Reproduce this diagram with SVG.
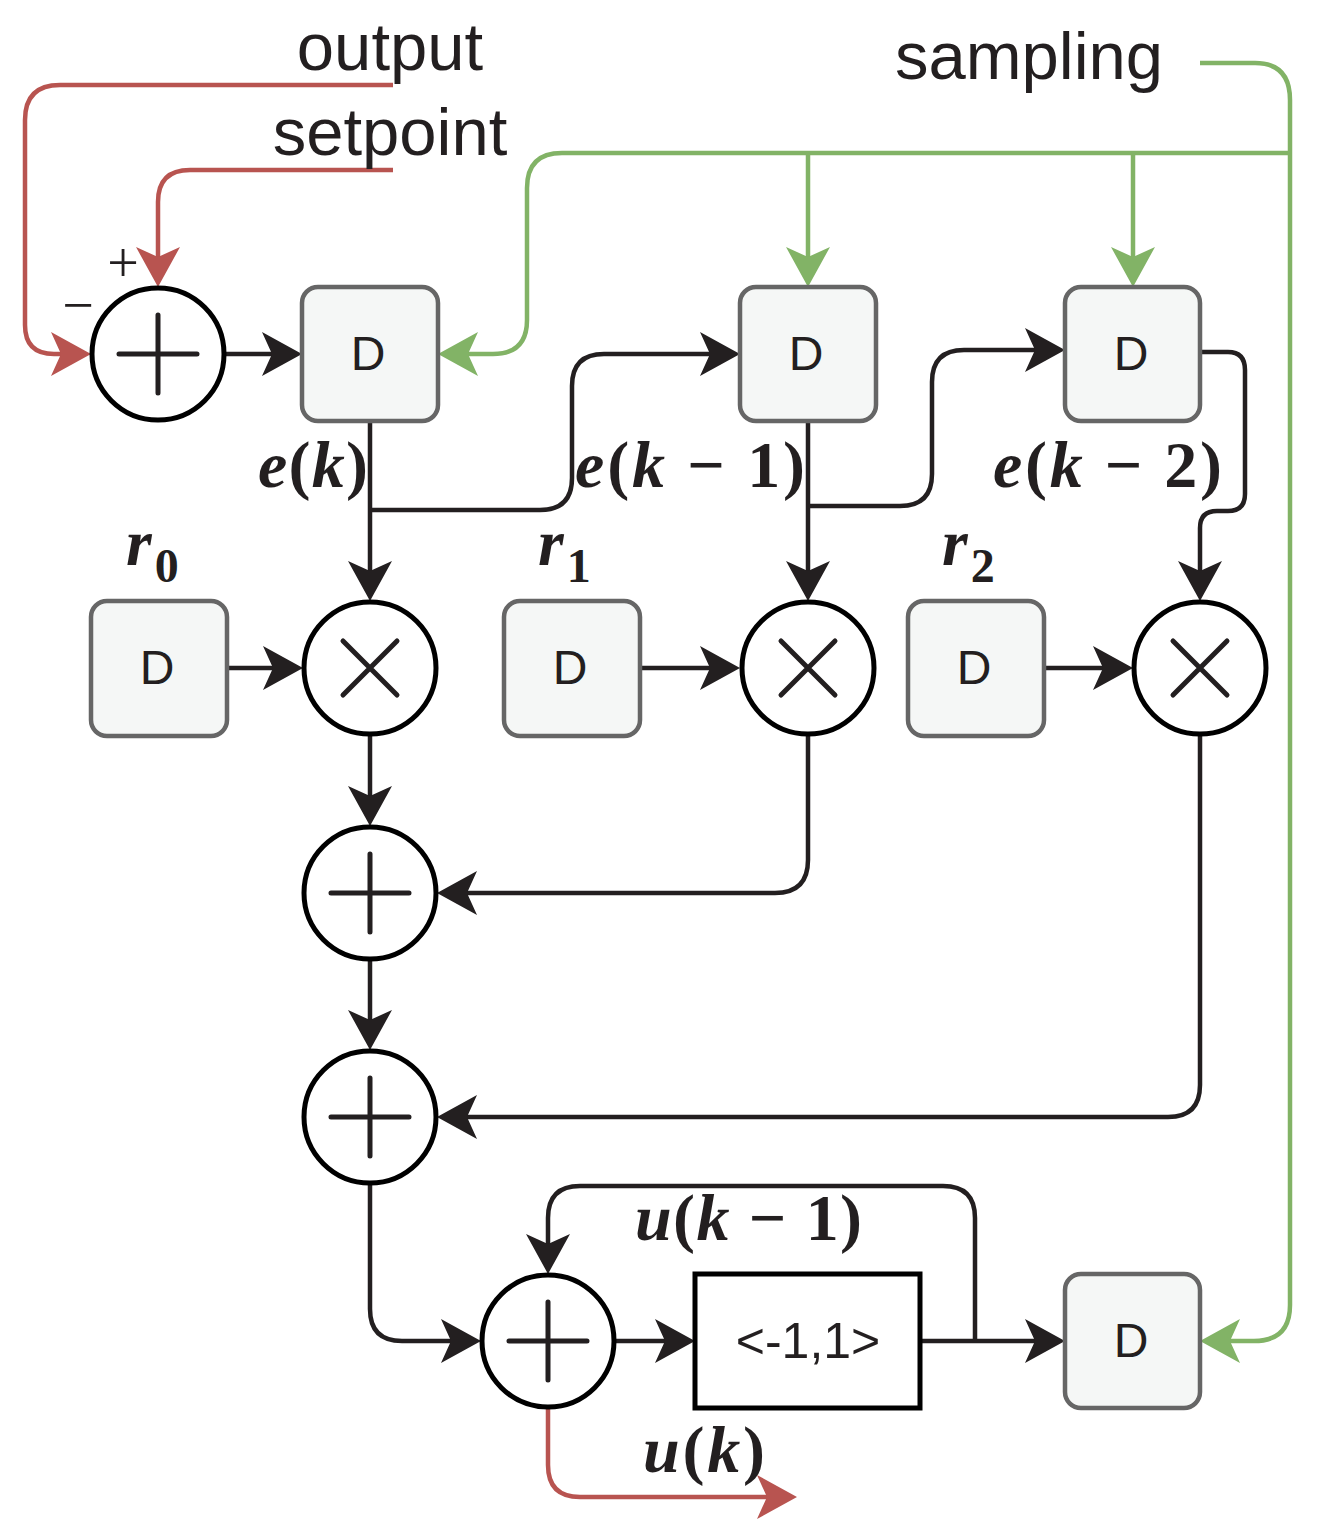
<svg xmlns="http://www.w3.org/2000/svg" width="1320" height="1529" viewBox="0 0 1320 1529">
<style>
.w{fill:none;stroke:#231f20;stroke-width:4.5;}
.r{fill:none;stroke:#b85450;stroke-width:4.5;}
.g{fill:none;stroke:#82b366;stroke-width:4.5;}
.d rect{fill:#f5f7f6;stroke:#666666;stroke-width:4.5;}
.d text{font-family:"Liberation Sans",Arial,sans-serif;font-size:48px;fill:#231f20;text-anchor:middle;}
.op circle{fill:#ffffff;stroke:#000000;stroke-width:5;}
.op path{fill:none;stroke:#231f20;stroke-width:5;stroke-linecap:round;}
.lbl{font-family:"Liberation Sans",Arial,sans-serif;font-size:67px;fill:#231f20;}
.m{font-family:"Liberation Serif","Times New Roman",serif;font-size:66px;font-weight:bold;fill:#231f20;}
.i{font-style:italic;}
.sub{font-size:48px;}
.s{font-family:"Liberation Serif","Times New Roman",serif;font-size:56px;fill:#231f20;text-anchor:middle;}
</style>
<defs>
<marker id="ak" markerUnits="userSpaceOnUse" markerWidth="42" markerHeight="44" viewBox="0 0 42 44" refX="10" refY="22" orient="auto"><path d="M0,0 L40,22 L0,44 L10,22 Z" fill="#231f20"/></marker>
<marker id="ar" markerUnits="userSpaceOnUse" markerWidth="42" markerHeight="44" viewBox="0 0 42 44" refX="10" refY="22" orient="auto"><path d="M0,0 L40,22 L0,44 L10,22 Z" fill="#b85450"/></marker>
<marker id="ag" markerUnits="userSpaceOnUse" markerWidth="42" markerHeight="44" viewBox="0 0 42 44" refX="10" refY="22" orient="auto"><path d="M0,0 L40,22 L0,44 L10,22 Z" fill="#82b366"/></marker>
</defs>

<g id="connectors">
  <path class="r" d="M393,85 H60 Q25,85 25,120 V325 Q25,354 54,354 H61" marker-end="url(#ar)"/>
  <path class="r" d="M393,170 H190 Q158,170 158,202 V257" marker-end="url(#ar)"/>
  <path class="g" d="M1200,63 H1255 Q1290,63 1290,100 V1305 Q1290,1341 1254,1341 H1230" marker-end="url(#ag)"/>
  <path class="g" d="M1290,153 H562 Q527,153 527,188 V320 Q527,354 493,354 H468" marker-end="url(#ag)"/>
  <path class="g" d="M808,153 V257" marker-end="url(#ag)"/>
  <path class="g" d="M1133,153 V257" marker-end="url(#ag)"/>
  <path class="w" d="M226,354 H272" marker-end="url(#ak)"/>
  <path class="w" d="M370,421 V571" marker-end="url(#ak)"/>
  <path class="w" d="M370,510 H540 Q572,510 572,478 V386 Q572,354 604,354 H710" marker-end="url(#ak)"/>
  <path class="w" d="M808,421 V571" marker-end="url(#ak)"/>
  <path class="w" d="M808,506 H900 Q932,506 932,474 V382 Q932,350 964,350 H1035" marker-end="url(#ak)"/>
  <path class="w" d="M1200,352 H1228 Q1245,352 1245,370 V494 Q1245,511 1228,511 H1217 Q1200,511 1200,528 V571" marker-end="url(#ak)"/>
  <path class="w" d="M227,668 H273" marker-end="url(#ak)"/>
  <path class="w" d="M640,668 H710" marker-end="url(#ak)"/>
  <path class="w" d="M1044,668 H1103" marker-end="url(#ak)"/>
  <path class="w" d="M370,735 V796" marker-end="url(#ak)"/>
  <path class="w" d="M808,735 V860 Q808,893 775,893 H467" marker-end="url(#ak)"/>
  <path class="w" d="M370,960 V1020" marker-end="url(#ak)"/>
  <path class="w" d="M1200,735 V1085 Q1200,1117 1168,1117 H467" marker-end="url(#ak)"/>
  <path class="w" d="M370,1184 V1309 Q370,1341 402,1341 H451" marker-end="url(#ak)"/>
  <path class="w" d="M615,1341 H665" marker-end="url(#ak)"/>
  <path class="w" d="M920,1341 H1035" marker-end="url(#ak)"/>
  <path class="w" d="M975,1341 V1218 Q975,1186 943,1186 H580 Q548,1186 548,1218 V1244" marker-end="url(#ak)"/>
  <path class="r" d="M548,1408 V1465 Q548,1497 580,1497 H767" marker-end="url(#ar)"/>
</g>

<g id="sum1" class="op"><circle cx="158" cy="354" r="66"/><path d="M119,354 H197 M158,315 V393"/></g>
<g id="d1" class="d"><rect x="302" y="287" width="136" height="134" rx="16"/><text x="368" y="370">D</text></g>
<g id="d2" class="d"><rect x="740" y="287" width="136" height="134" rx="16"/><text x="806" y="370">D</text></g>
<g id="d3" class="d"><rect x="1065" y="287" width="135" height="134" rx="16"/><text x="1131" y="370">D</text></g>

<g id="r0" class="d"><rect x="91" y="601" width="136" height="135" rx="16"/><text x="157" y="684">D</text></g>
<g id="r1" class="d"><rect x="504" y="601" width="136" height="135" rx="16"/><text x="570" y="684">D</text></g>
<g id="r2" class="d"><rect x="908" y="601" width="136" height="135" rx="16"/><text x="974" y="684">D</text></g>

<g id="mul1" class="op"><circle cx="370" cy="668" r="66"/><path d="M343,641 L397,695 M397,641 L343,695"/></g>
<g id="mul2" class="op"><circle cx="808" cy="668" r="66"/><path d="M781,641 L835,695 M835,641 L781,695"/></g>
<g id="mul3" class="op"><circle cx="1200" cy="668" r="66"/><path d="M1173,641 L1227,695 M1227,641 L1173,695"/></g>

<g id="sum2" class="op"><circle cx="370" cy="893" r="66"/><path d="M331,893 H409 M370,854 V932"/></g>
<g id="sum3" class="op"><circle cx="370" cy="1117" r="66"/><path d="M331,1117 H409 M370,1078 V1156"/></g>
<g id="sum4" class="op"><circle cx="548" cy="1341" r="66"/><path d="M509,1341 H587 M548,1302 V1380"/></g>

<g id="sat"><rect x="695" y="1274" width="225" height="134" fill="#ffffff" stroke="#000000" stroke-width="5"/><text x="808" y="1358" font-family="&quot;Liberation Sans&quot;,Arial,sans-serif" font-size="50" fill="#231f20" text-anchor="middle">&lt;-1,1&gt;</text></g>
<g id="d4" class="d"><rect x="1065" y="1274" width="135" height="134" rx="16"/><text x="1131" y="1357">D</text></g>

<g id="labels">
  <text class="lbl" x="390" y="70" text-anchor="middle">output</text>
  <text class="lbl" x="390" y="155" text-anchor="middle">setpoint</text>
  <text class="lbl" x="1029" y="79" text-anchor="middle">sampling</text>
  <text class="s" x="123" y="282">+</text>
  <text class="s" x="78" y="324">−</text>
  <text class="m" x="258" y="487" textLength="110" lengthAdjust="spacing"><tspan class="i">e</tspan>(<tspan class="i">k</tspan>)</text>
  <text class="m" x="575" y="487" textLength="230" lengthAdjust="spacing"><tspan class="i">e</tspan>(<tspan class="i">k</tspan> − 1)</text>
  <text class="m" x="993" y="487" textLength="229" lengthAdjust="spacing"><tspan class="i">e</tspan>(<tspan class="i">k</tspan> − 2)</text>
  <text class="m" x="126" y="565"><tspan class="i">r</tspan><tspan class="sub" dx="3" dy="17">0</tspan></text>
  <text class="m" x="538" y="565"><tspan class="i">r</tspan><tspan class="sub" dx="3" dy="17">1</tspan></text>
  <text class="m" x="942" y="565"><tspan class="i">r</tspan><tspan class="sub" dx="3" dy="17">2</tspan></text>
  <text class="m" x="635" y="1240" textLength="227" lengthAdjust="spacing"><tspan class="i">u</tspan>(<tspan class="i">k</tspan> − 1)</text>
  <text class="m" x="643" y="1472" textLength="122" lengthAdjust="spacing"><tspan class="i">u</tspan>(<tspan class="i">k</tspan>)</text>
</g>
</svg>
